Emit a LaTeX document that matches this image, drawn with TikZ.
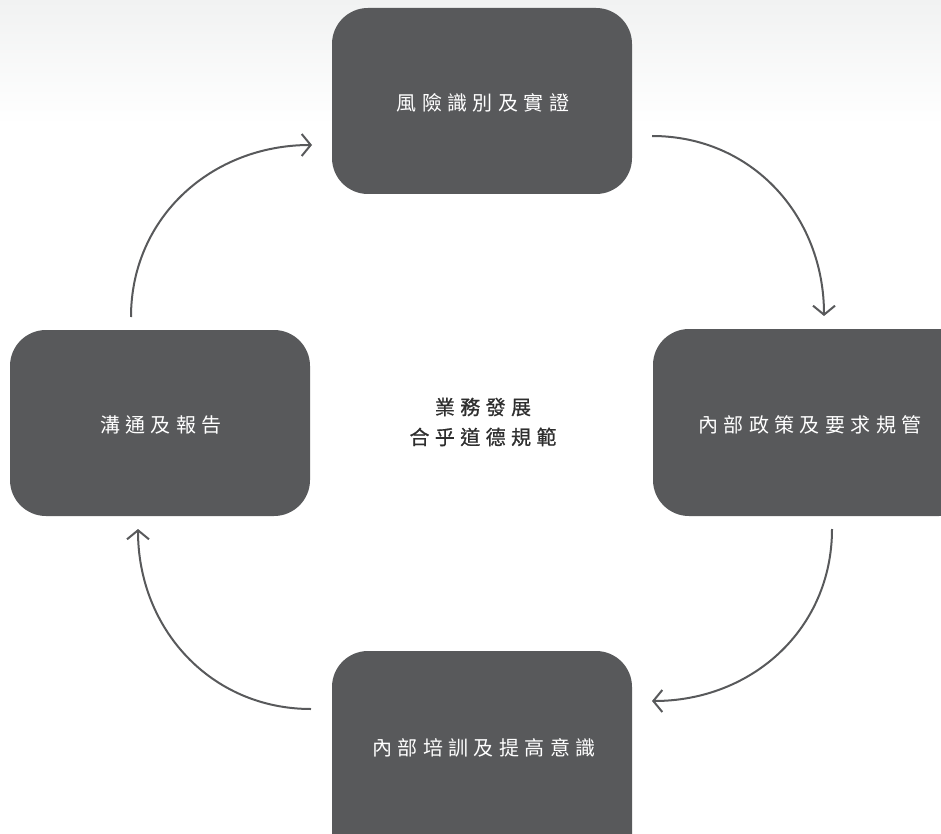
\documentclass[tikz,border=0pt]{standalone}
\usepackage{fontspec}
\newfontfamily\cjk[LetterSpace=27]{Noto Sans CJK TC}
\newfontfamily\cjkb[LetterSpace=27,FakeBold=0.8]{Noto Sans CJK TC}
\usetikzlibrary{arrows.meta}
\definecolor{boxgray}{HTML}{58595B}
\definecolor{arrowgray}{HTML}{58595B}
\definecolor{textdark}{HTML}{2E2E2E}
\definecolor{bgtop}{HTML}{F1F2F2}
\tikzset{
  stagebox/.style={fill=boxgray, draw=none, rounded corners=36pt, text=white,
    font=\cjk\fontsize{20}{24}\selectfont},
  cyclearrow/.style={draw=arrowgray, line width=2pt,
    -{Straight Barb[length=9pt,width=22pt,line width=2pt]}},
}
\begin{document}
\begin{tikzpicture}[x=1pt,y=-1pt]
\useasboundingbox (0,0) rectangle (941,834);
\shade[top color=bgtop, bottom color=white] (0,0) rectangle (941,125);
% boxes
\path[stagebox] (332,8) rectangle (632,194);
\node[stagebox, fill=none] (top) at (483,103) {風險識別及實證};
\path[stagebox] (653,329) rectangle (975,516);
\node[stagebox, fill=none] (right) at (810,425) {內部政策及要求規管};
\path[stagebox] (10,330) rectangle (310,516);
\node[stagebox, fill=none] (left) at (161,425) {溝通及報告};
\path[stagebox] (332,651) rectangle (632,870);
\node[stagebox, fill=none] (bottom) at (484,748) {內部培訓及提高意識};
% center
\node[text=textdark, font=\cjkb\fontsize{20}{30}\selectfont, align=center] (center) at (483,422) {業務發展\\合乎道德規範};
% arrow anchor coordinates
\coordinate (a1s) at (131,317);
\coordinate (a1e) at (312,145);
\coordinate (a2s) at (652,136);
\coordinate (a2e) at (824,316);
\coordinate (a3s) at (832,529);
\coordinate (a3e) at (652,701);
\coordinate (a4s) at (311,709);
\coordinate (a4e) at (138,529);
\draw[cyclearrow] (a1s) .. controls +(0,-100) and +(-100,0) .. (a1e);
\draw[cyclearrow] (a2s) .. controls +(100,0) and +(0,-100) .. (a2e);
\draw[cyclearrow] (a3s) .. controls +(0,100) and +(100,0) .. (a3e);
\draw[cyclearrow] (a4s) .. controls +(-100,0) and +(0,100) .. (a4e);
\end{tikzpicture}
\end{document}
